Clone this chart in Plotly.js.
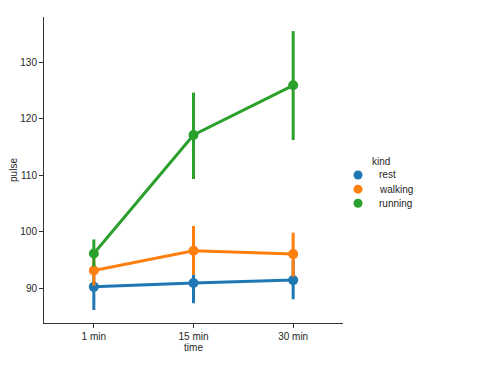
<!DOCTYPE html>
<html><head><meta charset="utf-8">
<script src="https://cdn.plot.ly/plotly-3.0.1.min.js"></script>
<style>html,body{margin:0;padding:0;background:#fff}#c{width:485px;height:371px}</style>
</head><body><div id="c"></div>
<script>
const times = ["1 min", "15 min", "30 min"];
const kinds = ["rest", "walking", "running"];
const colors = ["#1f77b4", "#ff7f0e", "#2ca02c"];
const legendTitle = "kind";
const restMean = [90.2, 90.9, 91.4];
const restLow = [86.1, 87.3, 88.0];
const restHigh = [94.3, 94.6, 95.0];
const walkMean = [93.1, 96.6, 96.0];
const walkLow = [90.4, 92.3, 92.0];
const walkHigh = [95.8, 101.0, 99.8];
const runMean = [96.1, 117.1, 125.9];
const runLow = [93.8, 109.3, 116.2];
const runHigh = [98.6, 124.6, 135.5];

const series = [[restMean, restLow, restHigh], [walkMean, walkLow, walkHigh], [runMean, runLow, runHigh]];
const traces = [];
series.forEach((s, i) => {
  const [m, lo, hi] = s;
  traces.push({
    x: times, y: m, type: 'scatter', mode: 'lines+markers', name: kinds[i], showlegend: false,
    line: {color: colors[i], width: 3},
    marker: {color: colors[i], size: 10},
    error_y: {type: 'data', symmetric: false,
      array: hi.map((v, j) => v - m[j]), arrayminus: m.map((v, j) => v - lo[j]),
      color: colors[i], thickness: 3, width: 0}
  });
});

// Custom legend (compact spacing like matplotlib)
const legX = 1.0502, legTextX = 1.1137, legTitleX = 1.0903;
const legY0 = 0.4837, legStep = 0.0462, legTitleY = 0.5271;
const shapes = [], annotations = [];
annotations.push({xref: 'paper', yref: 'paper', x: legTitleX, y: legTitleY, xanchor: 'left', yanchor: 'middle',
  text: legendTitle, showarrow: false, font: {size: 10}});
kinds.forEach((k, i) => {
  const yy = legY0 - i * legStep;
  shapes.push({type: 'circle', xref: 'paper', yref: 'paper', xsizemode: 'pixel', ysizemode: 'pixel',
    xanchor: legX, yanchor: yy, x0: -4.5, x1: 4.5, y0: -4.5, y1: 4.5,
    fillcolor: colors[i], line: {color: colors[i], width: 0}, layer: 'above'});
  annotations.push({xref: 'paper', yref: 'paper', x: legTextX, y: yy, xanchor: 'left', yanchor: 'middle',
    text: k, showarrow: false, font: {size: 10}});
});

const txt = '#262626';
const layout = {
  width: 485, height: 371,
  margin: {l: 44, r: 142, t: 17, b: 48},
  paper_bgcolor: '#fff', plot_bgcolor: '#fff',
  font: {family: 'Liberation Sans, Arial, sans-serif', size: 10, color: txt},
  xaxis: {type: 'category', range: [-0.5, 2.5], showgrid: false, zeroline: false,
    showline: true, linecolor: '#333', linewidth: 1, ticks: 'outside', ticklen: 4, tickcolor: '#333',
    title: {text: 'time', standoff: 2, font: {size: 10}}},
  yaxis: {range: [83.8, 138], showgrid: false, zeroline: false, tickvals: [90, 100, 110, 120, 130],
    showline: true, linecolor: '#333', linewidth: 1, ticks: 'outside', ticklen: 4, tickcolor: '#333',
    title: {text: 'pulse', standoff: 0, font: {size: 10}}},
  shapes: shapes, annotations: annotations,
  showlegend: false
};
Plotly.newPlot('c', traces, layout, {displayModeBar: false, staticPlot: true});
</script></body></html>
